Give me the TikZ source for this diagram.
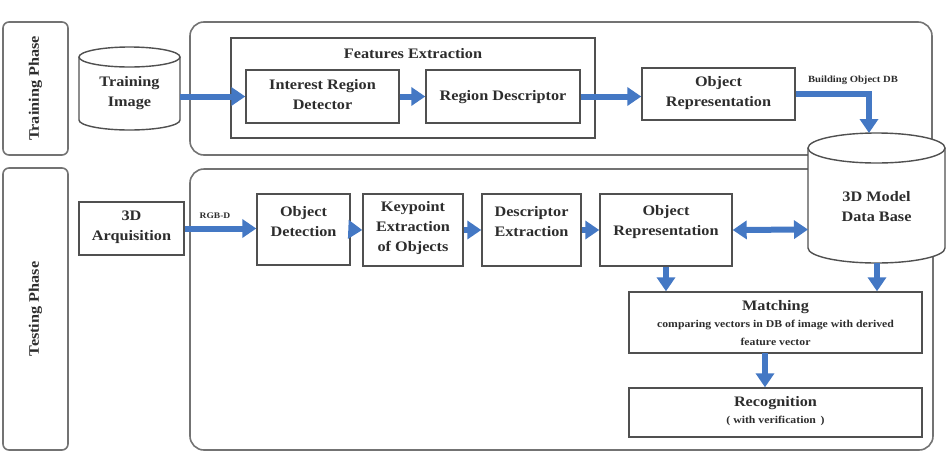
\documentclass[tikz,border=0pt]{standalone}
\usepackage{fontspec}
\setmainfont{Liberation Serif}[FakeStretch=1.12]
\usetikzlibrary{arrows.meta}
\definecolor{arrowblue}{RGB}{68,120,196}
\definecolor{boxgray}{RGB}{80,80,80}
\definecolor{outergray}{RGB}{115,115,115}
\definecolor{textdark}{RGB}{45,45,45}
\begin{document}
\begin{tikzpicture}[x=1pt,y=-1pt,
  box/.style={draw=boxgray, line width=1.4pt, fill=white, inner sep=0pt},
  outer/.style={draw=outergray, line width=1.6pt, rounded corners=14pt},
  phase/.style={draw=outergray, line width=1.6pt, rounded corners=6pt, rotate=90, inner sep=0pt,
    font=\bfseries\fontsize{14.5}{18}\selectfont, text=textdark},
  txt/.style={font=\bfseries\fontsize{14.5}{20}\selectfont, align=center, inner sep=0pt, text=textdark},
  small/.style={font=\bfseries\fontsize{10.5}{14}\selectfont, align=center, inner sep=0pt, text=textdark},
  tiny/.style={font=\bfseries\fontsize{8.5}{10}\selectfont, inner sep=0pt, text=textdark},
  cyl/.style={draw=boxgray, line width=1.4pt, fill=white},
  arr/.style={draw=arrowblue, line width=6pt, -{Triangle[width=18pt,length=14pt]}},
  darr/.style={draw=arrowblue, line width=6pt, {Triangle[width=18pt,length=14pt]}-{Triangle[width=18pt,length=14pt]}}
]
\useasboundingbox (0,0) rectangle (948,464);

% phase boxes
\node[phase, minimum width=133pt, minimum height=65pt] (trainphase) at (35.5,88.5) {Training Phase};
\node[phase, minimum width=282pt, minimum height=65pt] (testphase) at (35.5,309) {Testing Phase};

% outer rounded regions
\draw[outer] (190,22) rectangle (932,155);
\draw[outer] (190,169) rectangle (933,450);

% training phase
\node[box, minimum width=364pt, minimum height=100pt] (fe) at (413,88) {};
\node[txt] (feT) at (413,54) {Features Extraction};
\node[box, minimum width=153pt, minimum height=53pt] (ird) at (322.5,96.5) {};
\node[txt] (irdT) at (322.5,95) {Interest Region\\Detector};
\node[box, minimum width=154pt, minimum height=53pt] (rd) at (503,96.5) {};
\node[txt] (rdT) at (503,97) {Region Descriptor};
\node[box, minimum width=153pt, minimum height=52pt] (orT) at (718.5,94) {};
\node[txt] (orTT) at (718.5,93) {Object\\Representation};

% training image cylinder
\filldraw[cyl] (79,57) -- (79,120) .. controls (79,125.52) and (101.61,130) .. (129.5,130)
  .. controls (157.39,130) and (180,125.52) .. (180,120) -- (180,57);
\draw[cyl] (129.5,57) ellipse [x radius=50.5, y radius=10];
\node[txt] (timT) at (129.5,93) {Training\\Image};
\coordinate (timR) at (180,96.5);

% testing phase
\node[box, minimum width=105pt, minimum height=53pt] (acq) at (131.5,228.5) {};
\node[txt] (acqT) at (131.5,227) {3D\\Arquisition};
\node[box, minimum width=93pt, minimum height=71pt] (od) at (303.5,229.5) {};
\node[txt] (odT) at (303.5,222) {Object\\Detection};
\node[box, minimum width=100pt, minimum height=72pt] (kp) at (413,230) {};
\node[txt] (kpT) at (413,228) {Keypoint\\Extraction\\of Objects};
\node[box, minimum width=99pt, minimum height=72pt] (de) at (531.5,230) {};
\node[txt] (deT) at (531.5,222) {Descriptor\\Extraction};
\node[box, minimum width=132pt, minimum height=72pt] (orB) at (666,230) {};
\node[txt] (orBT) at (666,222) {Object\\Representation};
\node[box, minimum width=293pt, minimum height=61pt] (match) at (775.5,322.5) {};
\node[txt] (matchT) at (775.5,307) {Matching};
\node[small] (matchS1) at (775.5,325) {comparing vectors in DB of image with derived};
\node[small] (matchS2) at (775.5,342) {feature vector};
\node[box, minimum width=293pt, minimum height=49pt] (rec) at (775.5,412.5) {};
\node[txt] (recT) at (775.5,403) {Recognition};
\node[small] (recS) at (775.5,421) {( with verification \,)};

% database cylinder
\filldraw[cyl] (808,148) -- (808,248) .. controls (808,256.28) and (838.67,263) .. (876.5,263)
  .. controls (914.33,263) and (945,256.28) .. (945,248) -- (945,148);
\draw[cyl] (876.5,148) ellipse [x radius=68.5, y radius=15];
\node[txt] (dbT) at (876.5,207) {3D Model\\Data Base};
\coordinate (dbTop) at (869,133);
\coordinate (dbL) at (808,229.5);
\coordinate (dbBot) at (877,263);
\coordinate (mr) at (765,353);

% arrows
\draw[arr] (timR) -- (ird.west);
\draw[arr] (ird.east) -- (rd.west);
\draw[arr] (rd.east) -- (rd.east -| orT.west);
\draw[arr, line join=miter] (orT.east) -- (orT.east -| dbTop) -- (dbTop);
\draw[arr] (acq.east) -- (acq.east -| od.west);
\draw[arr] (od.east) -- (kp.west);
\draw[arr] (kp.east) -- (de.west);
\draw[arr] (de.east) -- (orB.west);
\draw[darr] (orB.east) -- (dbL);
\draw[arr] (orB.south) -- (orB.south |- match.north);
\draw[arr] (dbBot) -- (dbBot |- match.north);
\draw[arr] (mr) -- (mr |- rec.north);

% labels
\node[tiny] (rgbd) at (215,216) {RGB-D};
\node[small, font=\bfseries\fontsize{9.5}{12}\selectfont] (bdb) at (853,80) {Building Object DB};
\end{tikzpicture}
\end{document}
